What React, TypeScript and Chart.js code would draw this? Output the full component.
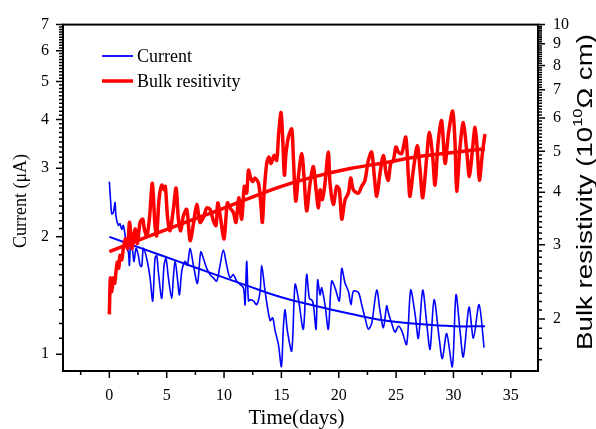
import React, { useEffect, useRef } from 'react';
import { Chart, registerables } from 'chart.js';

Chart.register(...registerables);

const SERIF = "'Liberation Serif', 'Times New Roman', Times, serif";
const SANS = "'Liberation Sans', Arial, Helvetica, sans-serif";

// ---- Data ----
const currentDays = [
  0.0, 0.12, 0.21, 0.35, 0.5, 0.58, 0.79, 0.93, 1.08, 1.22, 1.37, 1.51, 1.66, 1.75, 1.86, 2.04, 2.15, 2.33,
  2.53, 2.68, 2.82, 2.97, 3.26, 3.55, 3.78, 3.98, 4.13, 4.27, 4.57, 4.77, 4.94, 5.15, 5.44, 5.58, 5.73, 5.93,
  6.11, 6.31, 6.6, 6.8, 7.04, 7.33, 7.68, 7.97, 8.2, 8.49, 8.78, 9.07, 9.36, 9.65, 9.94, 10.23, 10.52, 10.81,
  11.1, 11.39, 11.69, 11.83, 11.97, 12.13, 12.27, 12.56, 12.85, 13.14, 13.28, 13.58, 14.01, 14.24, 14.45,
  14.74, 15.0, 15.17, 15.32, 15.52, 15.9, 16.19, 16.48, 16.91, 17.2, 17.44, 17.64, 17.79, 18.02, 18.16, 18.37,
  18.51, 18.8, 19.09, 19.38, 19.68, 20.05, 20.26, 20.55, 20.84, 21.07, 21.27, 21.71, 22.0, 22.29, 22.58, 22.87,
  23.31, 23.6, 23.89, 24.18, 24.32, 24.62, 24.91, 25.2, 25.49, 25.92, 26.27, 26.65, 26.94, 27.32, 27.67, 27.96,
  28.31, 28.77, 29.03, 29.41, 29.9, 30.22, 30.57, 30.86, 31.36, 31.74, 32.23, 32.67,
];
const currentValues = [
  2.77, 2.45, 2.29, 2.31, 2.45, 2.26, 2.14, 2.16, 2.09, 2.14, 2.02, 1.87, 1.83, 1.69, 1.98, 1.83, 1.73, 1.87,
  1.79, 1.69, 1.68, 1.87, 1.76, 1.57, 1.37, 1.76, 1.79, 1.63, 1.39, 1.69, 1.76, 1.57, 1.39, 1.57, 1.74, 1.57,
  1.42, 1.63, 1.73, 1.69, 1.87, 1.69, 1.52, 1.83, 1.76, 1.66, 1.6, 1.57, 1.54, 1.69, 1.85, 1.69, 1.57, 1.6,
  1.54, 1.51, 1.48, 1.34, 1.73, 1.37, 1.38, 1.37, 1.34, 1.45, 1.69, 1.45, 1.22, 1.24, 1.15,
  1.06, 0.93, 1.17, 1.3, 1.15, 1.02, 1.51, 1.39, 1.16, 1.6, 1.39, 1.38, 1.34, 1.16, 1.55, 1.42,
  1.48, 1.34, 1.16, 1.54, 1.48, 1.37, 1.66, 1.52, 1.45, 1.34, 1.45, 1.44, 1.34, 1.24, 1.16, 1.2,
  1.46, 1.29, 1.17, 1.33, 1.28, 1.2, 1.14, 1.18, 1.15, 1.06, 1.46, 1.27, 1.1, 1.46, 1.2, 1.03,
  1.38, 1.09, 0.975, 1.13, 0.93, 1.42, 1.15, 0.985, 1.32, 1.1, 1.34, 1.04,
];

const bulkDays = [
  0.0, 0.09, 0.18, 0.26, 0.35, 0.47, 0.58, 0.7, 0.82, 0.93, 1.08, 1.22, 1.4, 1.51, 1.6, 1.75, 1.86, 1.98, 2.1,
  2.27, 2.44, 2.68, 2.91, 3.05, 3.26, 3.49, 3.75, 3.98, 4.13, 4.33, 4.57, 4.77, 4.88, 5.09, 5.29, 5.58, 5.82,
  6.02, 6.22, 6.45, 6.75, 7.04, 7.33, 7.62, 7.91, 8.2, 8.49, 8.78, 9.07, 9.3, 9.45, 9.71, 10.0, 10.29, 10.52,
  10.81, 11.04, 11.28, 11.54, 11.77, 11.97, 12.13, 12.32, 12.5, 12.7, 13.0, 13.2, 13.34, 13.49, 13.72, 13.92,
  14.1, 14.36, 14.59, 14.76, 14.97, 15.12, 15.26, 15.4, 15.61, 15.9, 16.04, 16.25, 16.48, 16.77, 16.97, 17.2,
  17.5, 17.79, 18.02, 18.22, 18.37, 18.57, 18.8, 19.09, 19.24, 19.53, 19.82, 20.05, 20.26, 20.55, 20.84, 21.04,
  21.27, 21.71, 22.0, 22.29, 22.58, 22.87, 23.1, 23.31, 23.6, 23.89, 24.12, 24.32, 24.53, 24.76, 24.99, 25.2,
  25.49, 25.84, 26.07, 26.21, 26.5, 26.85, 27.09, 27.32, 27.67, 27.9, 28.19, 28.39, 28.68, 28.97, 29.27, 29.56,
  29.93, 30.14, 30.28, 30.57, 30.86, 31.15, 31.39, 31.68, 31.88, 32.08, 32.26, 32.52, 32.75,
];
const bulkValues = [
  2.05, 2.5, 2.32, 2.37, 2.5, 2.43, 2.59, 2.73, 2.64, 2.83, 2.76, 2.94, 3.1, 2.99, 2.94, 3.39, 3.21, 2.94, 3.1,
  3.27, 3.02, 3.39, 3.45, 3.27, 3.15, 3.45, 4.2, 3.33, 3.15, 3.84, 4.16, 4.05, 4.13, 3.45, 3.24, 3.64, 4.09,
  3.45, 3.24, 3.51, 3.64, 3.07, 3.36, 3.74, 3.39, 3.48, 3.67, 3.64, 3.42, 3.33, 3.77, 3.45, 3.1, 3.77, 3.67,
  3.58, 3.39, 3.88, 3.45, 4.13, 3.98, 4.51, 4.32, 4.24, 4.32, 4.2, 3.77, 3.39, 3.98, 4.68, 4.85,
  4.68, 4.89, 4.76, 5.5, 6.18, 5.31, 4.39, 4.94, 5.4, 5.65, 4.85, 3.81, 4.36, 4.94, 4.36, 3.61,
  4.2, 4.6, 4.05, 3.67, 4.05, 3.84, 4.2, 4.98, 4.2, 3.74, 4.13, 4.05, 3.45, 3.84, 3.98, 4.32,
  4.05, 3.98, 4.13, 4.27, 4.76, 4.98, 4.36, 3.91, 4.44, 4.89, 4.44, 4.27, 4.68, 4.76, 5.12, 4.98,
  4.94, 5.4, 4.36, 3.91, 4.51, 5.16, 4.51, 3.88, 4.85, 5.55, 4.85, 4.16, 5.31, 5.91, 4.68, 5.5,
  6.23, 5.21, 4.02, 5.12, 5.85, 5.03, 4.36, 5.12, 5.7, 5.03, 4.27, 4.94, 5.5,
];

const fitDays = [0, 3, 6, 9, 12, 15, 18, 21, 24, 27, 30, 32.75];
const currentFitValues = [2.0, 1.86, 1.73, 1.61, 1.5, 1.4, 1.33, 1.27, 1.22, 1.195, 1.18, 1.18];
const bulkFitValues = [2.89, 3.11, 3.34, 3.58, 3.85, 4.13, 4.36, 4.55, 4.7, 4.86, 4.97, 5.07];

// ---- Axis tick labels ----
const xTickLabels = [0, 5, 10, 15, 20, 25, 30, 35];
const currentTickLabels = [1, 2, 3, 4, 5, 6, 7];
const bulkTickLabels = [2, 3, 4, 5, 6, 7, 8, 9, 10];

const seriesNames = ['Current', 'Bulk resitivity'];

const BLUE = '#0000ff';
const RED = '#ff0000';

const pairs = (xs: number[], ys: number[]) => xs.map((x, i) => ({ x, y: ys[i] }));

function drawRotated(
  ctx: CanvasRenderingContext2D,
  parts: { text: string; font: string; dy?: number }[],
  baseX: number,
  cy: number,
  totalLen?: number
) {
  let w = 0;
  const widths: number[] = [];
  for (const p of parts) {
    ctx.font = p.font;
    const pw = ctx.measureText(p.text).width;
    widths.push(pw);
    w += pw;
  }
  const s = totalLen ? totalLen / w : 1;
  ctx.save();
  ctx.translate(baseX, cy);
  ctx.rotate(-Math.PI / 2);
  ctx.scale(s, 1);
  ctx.textAlign = 'left';
  ctx.textBaseline = 'alphabetic';
  ctx.fillStyle = '#000';
  let x = -w / 2;
  parts.forEach((p, i) => {
    ctx.font = p.font;
    ctx.fillText(p.text, x, p.dy || 0);
    x += widths[i];
  });
  ctx.restore();
}

const decorPlugin = {
  id: 'decor',
  afterDraw(chart: any) {
    const { ctx, chartArea: a, scales } = chart;
    const xs = scales.x;
    const yl = scales.y;
    const yr = scales.y1;
    ctx.save();
    ctx.strokeStyle = '#000';
    ctx.lineWidth = 1.5;
    ctx.beginPath();
    // x ticks
    for (const v of xTickLabels) {
      const p = xs.getPixelForValue(v);
      ctx.moveTo(p, a.bottom);
      ctx.lineTo(p, a.bottom + 7);
    }
    for (let v = -2.5; v < xs.max; v += 5) {
      const p = xs.getPixelForValue(v);
      ctx.moveTo(p, a.bottom);
      ctx.lineTo(p, a.bottom + 4);
    }
    // left ticks
    for (const v of currentTickLabels) {
      const p = yl.getPixelForValue(v);
      ctx.moveTo(a.left, p);
      ctx.lineTo(a.left - 7, p);
    }
    for (let k = 11; k < 70; k++) {
      if (k % 10 === 0) continue;
      const p = yl.getPixelForValue(k / 10);
      ctx.moveTo(a.left, p);
      ctx.lineTo(a.left - 4, p);
    }
    // right ticks
    for (const v of bulkTickLabels) {
      const p = yr.getPixelForValue(v);
      ctx.moveTo(a.right, p);
      ctx.lineTo(a.right + 7, p);
    }
    for (let k = 16; k < 100; k++) {
      if (k % 10 === 0) continue;
      const p = yr.getPixelForValue(k / 10);
      ctx.moveTo(a.right, p);
      ctx.lineTo(a.right + 4, p);
    }
    ctx.stroke();
    // frame
    ctx.lineWidth = 2;
    ctx.strokeRect(a.left, a.top, a.right - a.left, a.bottom - a.top);

    // axis titles
    ctx.fillStyle = '#000';
    ctx.font = `21px ${SERIF}`;
    ctx.textAlign = 'center';
    ctx.textBaseline = 'alphabetic';
    ctx.fillText('Time(days)', 296.5, 424);

    drawRotated(ctx, [{ text: 'Current (μA)', font: `18px ${SERIF}` }], 25.5, 201);
    drawRotated(
      ctx,
      [
        { text: 'Bulk resistivity (10', font: `22px ${SANS}` },
        { text: '10', font: `13px ${SANS}`, dy: -10 },
        { text: 'Ω cm)', font: `22px ${SANS}` },
      ],
      592,
      192,
      316
    );

    // legend
    const legendItems = [
      { name: seriesNames[0], color: BLUE, width: 1.8, y: 56 },
      { name: seriesNames[1], color: RED, width: 3.5, y: 81 },
    ];
    for (const it of legendItems) {
      ctx.strokeStyle = it.color;
      ctx.lineWidth = it.width;
      ctx.beginPath();
      ctx.moveTo(102, it.y);
      ctx.lineTo(133, it.y);
      ctx.stroke();
      ctx.fillStyle = '#000';
      ctx.font = `18px ${SERIF}`;
      ctx.textAlign = 'left';
      ctx.textBaseline = 'alphabetic';
      ctx.fillText(it.name, 137, it.y + 6);
    }
    ctx.restore();
  },
};

export default function App() {
  const ref = useRef<HTMLCanvasElement | null>(null);
  useEffect(() => {
    if (!ref.current) return;
    const tickFont = { family: SERIF, size: 16 };
    const chart = new Chart(ref.current, {
      type: 'line',
      data: {
        datasets: [
          {
            label: seriesNames[0],
            data: pairs(currentDays, currentValues),
            yAxisID: 'y',
            borderColor: BLUE,
            borderWidth: 1.6,
            pointRadius: 0,
            tension: 0.3,
            borderJoinStyle: 'round',
            order: 3,
          },
          {
            label: 'Current fit',
            data: pairs(fitDays, currentFitValues),
            yAxisID: 'y',
            borderColor: BLUE,
            borderWidth: 2,
            pointRadius: 0,
            tension: 0.4,
            order: 2,
          },
          {
            label: seriesNames[1],
            data: pairs(bulkDays, bulkValues),
            yAxisID: 'y1',
            borderColor: RED,
            borderWidth: 3.5,
            pointRadius: 0,
            tension: 0.3,
            borderJoinStyle: 'round',
            order: 1,
          },
          {
            label: 'Bulk resitivity fit',
            data: pairs(fitDays, bulkFitValues),
            yAxisID: 'y1',
            borderColor: RED,
            borderWidth: 3.5,
            pointRadius: 0,
            tension: 0.4,
            order: 0,
          },
        ],
      },
      options: {
        animation: false,
        responsive: true,
        maintainAspectRatio: false,
        devicePixelRatio: 1,
        layout: { padding: { top: 19, left: 0, right: 0, bottom: 0 } },
        plugins: { legend: { display: false }, tooltip: { enabled: false } },
        scales: {
          x: {
            type: 'linear',
            min: -4.04,
            max: 37.37,
            grid: { display: false, drawTicks: false },
            border: { display: false },
            afterBuildTicks: (s: any) => {
              s.ticks = xTickLabels.map((v) => ({ value: v }));
            },
            afterFit: (s: any) => {
              s.height = 58;
            },
            ticks: {
              autoSkip: false,
              maxRotation: 0,
              padding: 14.7,
              color: '#000',
              font: tickFont,
              callback: (v: any) => String(v),
            },
          },
          y: {
            type: 'logarithmic',
            position: 'left',
            min: 0.906,
            max: 7,
            grid: { display: false, drawTicks: false },
            border: { display: false },
            afterBuildTicks: (s: any) => {
              s.ticks = currentTickLabels.map((v) => ({ value: v }));
            },
            afterFit: (s: any) => {
              s.width = 63;
            },
            ticks: {
              autoSkip: false,
              padding: 14,
              color: '#000',
              font: tickFont,
              callback: (v: any) => String(v),
            },
          },
          y1: {
            type: 'logarithmic',
            position: 'right',
            min: 1.504,
            max: 10,
            grid: { display: false, drawTicks: false },
            border: { display: false },
            afterBuildTicks: (s: any) => {
              s.ticks = bulkTickLabels.map((v) => ({ value: v }));
            },
            afterFit: (s: any) => {
              s.width = 58;
            },
            ticks: {
              autoSkip: false,
              padding: 15,
              color: '#000',
              font: tickFont,
              callback: (v: any) => String(v),
            },
          },
        },
      } as any,
      plugins: [decorPlugin],
    });
    return () => chart.destroy();
  }, []);

  return (
    <div style={{ position: 'fixed', left: 0, top: 0, width: 596, height: 429, background: '#fff' }}>
      <canvas ref={ref} />
    </div>
  );
}
